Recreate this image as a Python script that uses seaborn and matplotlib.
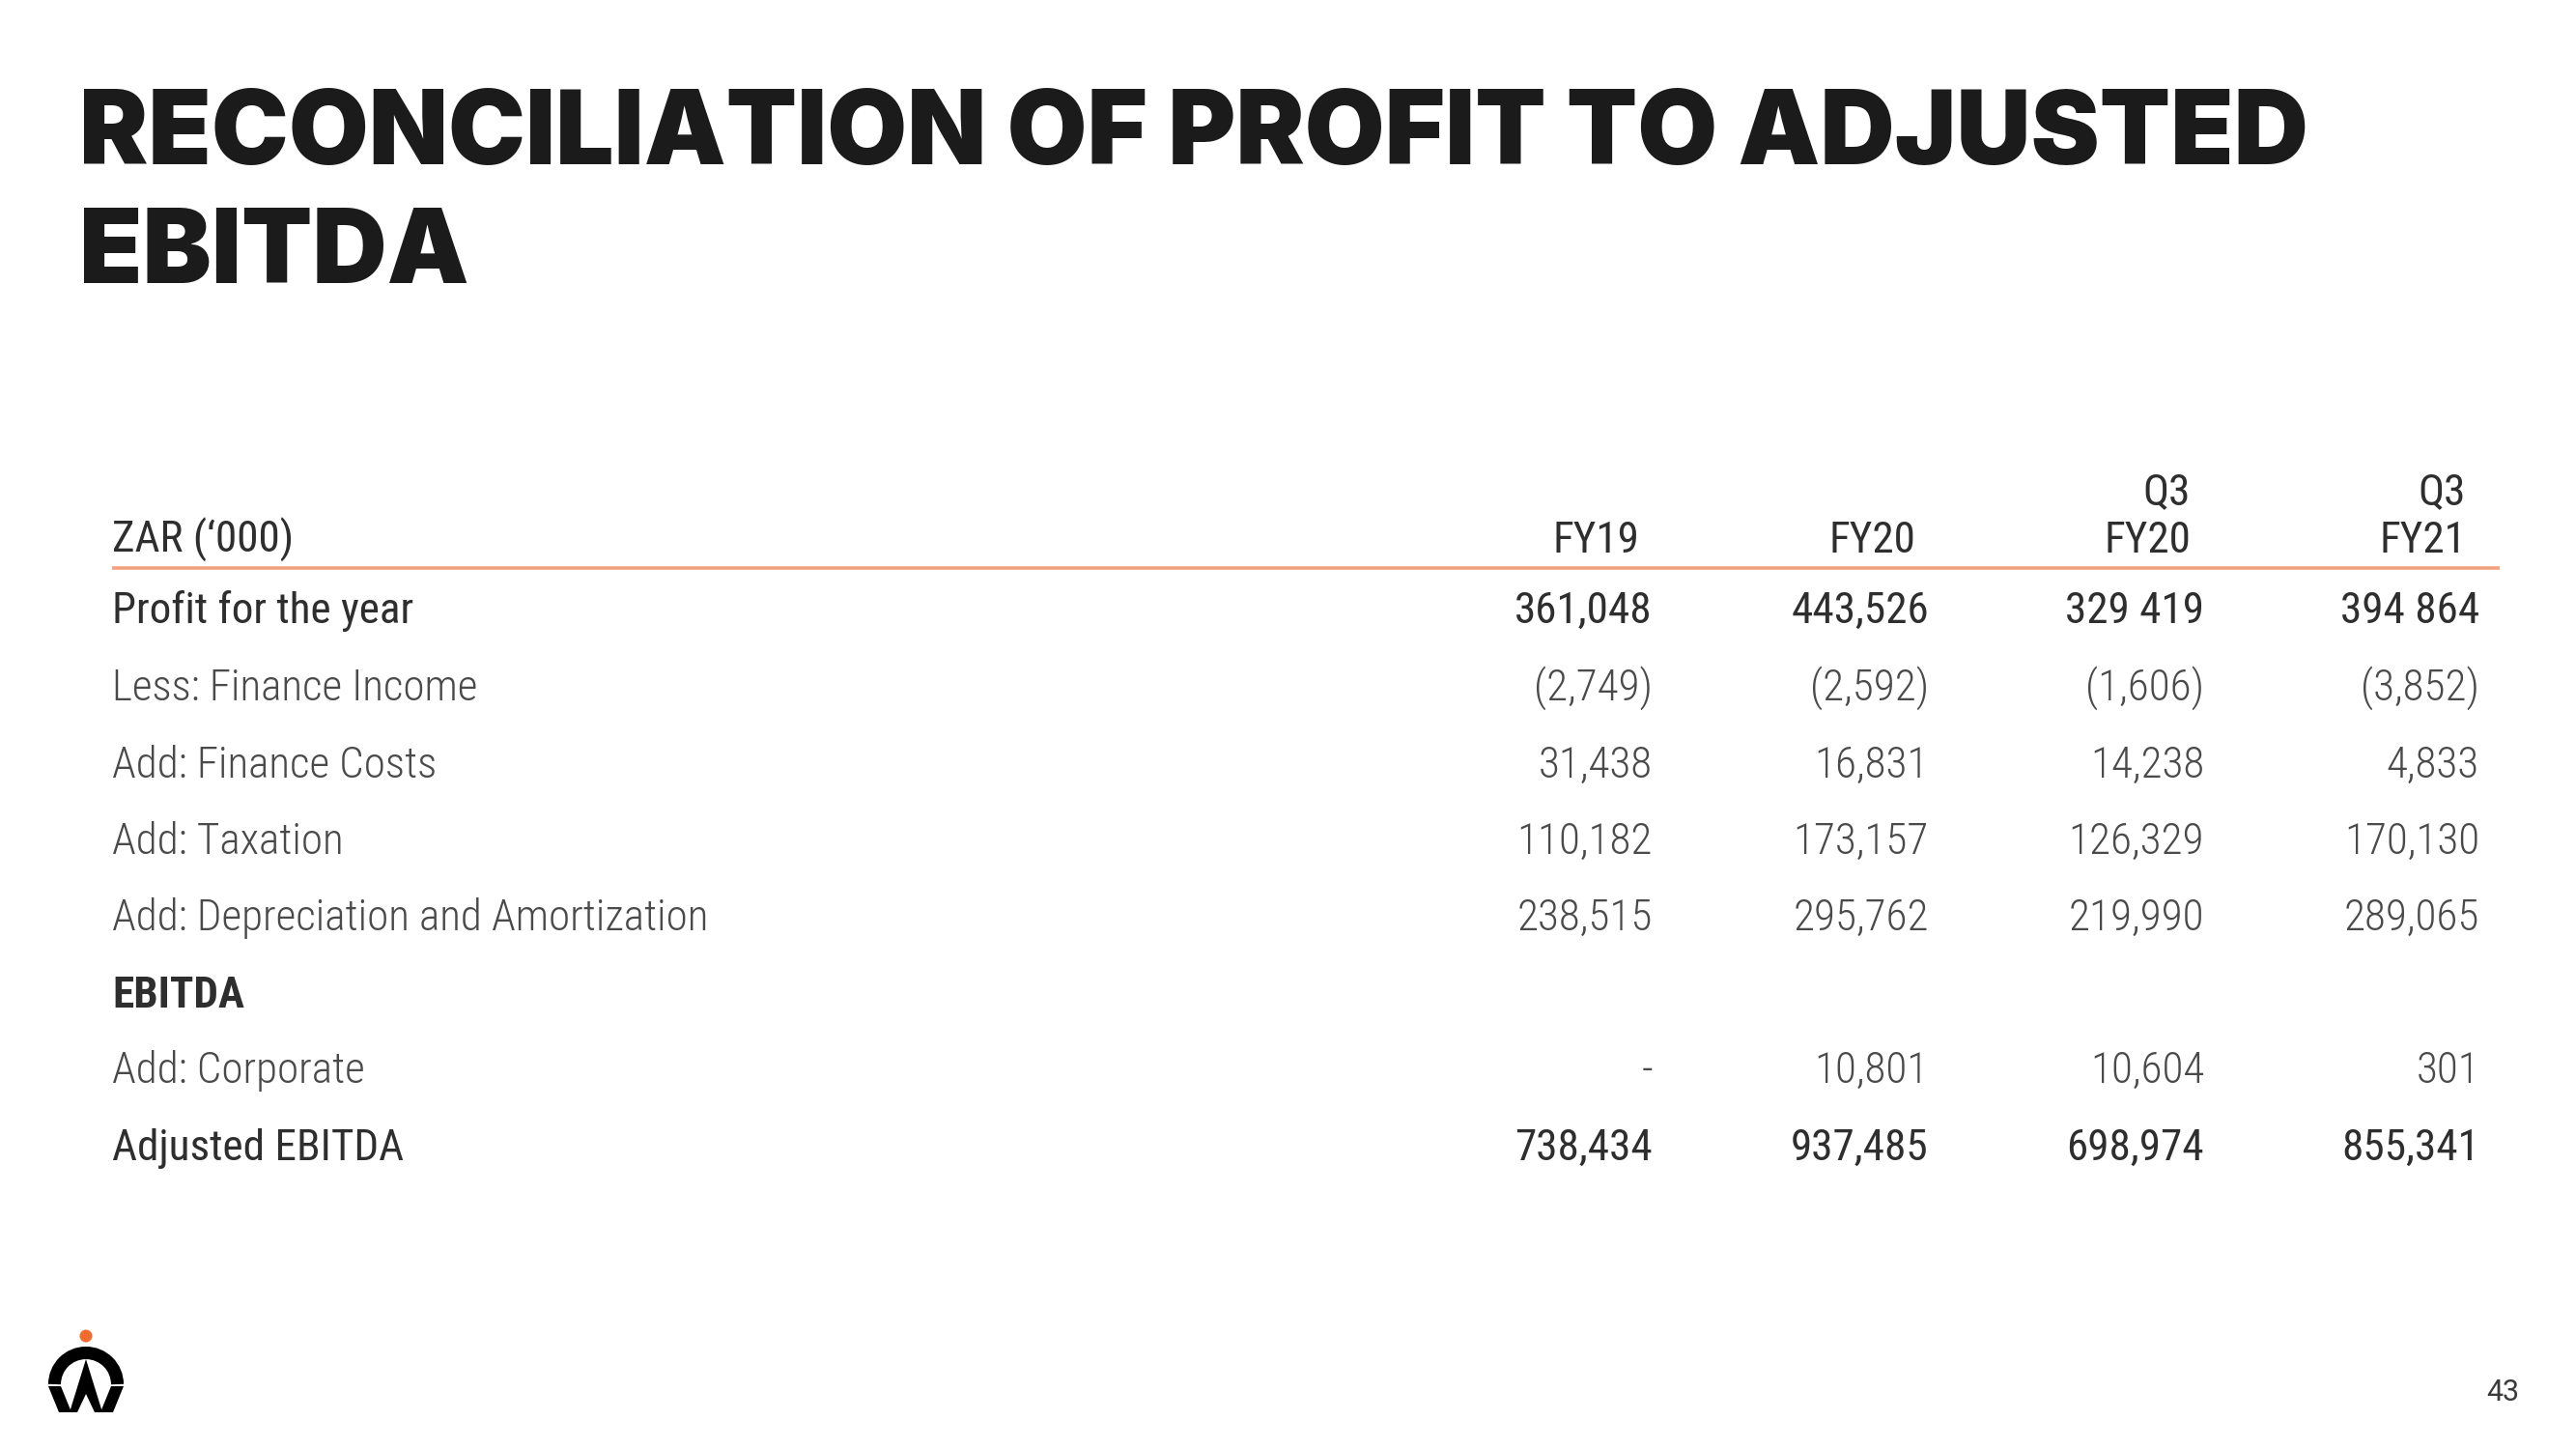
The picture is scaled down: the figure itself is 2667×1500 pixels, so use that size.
import numpy as np
import pandas as pd
import matplotlib
matplotlib.use("Agg")
import matplotlib.pyplot as plt
import seaborn as sns
from matplotlib import font_manager as fm
from matplotlib.font_manager import FontProperties
from matplotlib.patches import Arc, Polygon, Circle
import os

# ---------------- data ----------------
title_lines = ["RECONCILIATION OF PROFIT TO ADJUSTED", "EBITDA"]
unit_label = "ZAR (\u2018000)"
col_top = ["", "", "Q3", "Q3"]
col_bottom = ["FY19", "FY20", "FY20", "FY21"]
row_labels = [
    "Profit for the year",
    "Less: Finance Income",
    "Add: Finance Costs",
    "Add: Taxation",
    "Add: Depreciation and Amortization",
    "EBITDA",
    "Add: Corporate",
    "Adjusted EBITDA",
]
fy19 = ["361,048", "(2,749)", "31,438", "110,182", "238,515", "", "-", "738,434"]
fy20 = ["443,526", "(2,592)", "16,831", "173,157", "295,762", "", "10,801", "937,485"]
q3fy20 = ["329 419", "(1,606)", "14,238", "126,329", "219,990", "", "10,604", "698,974"]
q3fy21 = ["394 864", "(3,852)", "4,833", "170,130", "289,065", "", "301", "855,341"]
row_style = ["strong", "light", "light", "light", "light", "bold", "light", "strong"]
page_number = "43"

table = pd.DataFrame({"FY19": fy19, "FY20": fy20, "Q3 FY20": q3fy20, "Q3 FY21": q3fy21},
                     index=row_labels)

# ---------------- fonts ----------------
sns.set_theme(style="white")
plt.rcParams["font.family"] = ["Roboto", "DejaVu Sans"]


def font_file(family, weight, fallback_family="Roboto"):
    best = None
    for f in fm.fontManager.ttflist:
        base = os.path.basename(f.fname)
        if f.name != family or f.style != "normal":
            continue
        if "Italic" in base or "[" in base:
            continue
        try:
            d = abs(int(f.weight) - weight)
        except (TypeError, ValueError):
            d = 999
        if best is None or d < best[0]:
            best = (d, f.fname)
    if best is not None:
        return FontProperties(fname=best[1])
    return FontProperties(family=fallback_family, weight=weight)


fp_light = font_file("Roboto Condensed", 300)
fp_reg = font_file("Roboto Condensed", 400)
fp_med = font_file("Roboto Condensed", 600)
fp_title = font_file("Inter", 900, "DejaVu Sans")
fp_page = font_file("Roboto", 400)

W, H = 2667, 1500
fig = plt.figure(figsize=(W / 100, H / 100), dpi=100)
fig.patch.set_facecolor("white")
ax = fig.add_axes([0, 0, 1, 1])
ax.set_xlim(0, W)
ax.set_ylim(H, 0)
ax.axis("off")

# title
for y, line in zip([170, 293], title_lines):
    ax.text(82, y, line, fontproperties=fp_title, fontsize=77, color="#1b1b1b",
            ha="left", va="baseline")

FS = 32.5
dark = "#2e2e2e"
light = "#4a4a4a"

label_x = 116
col_right = [1711, 1997, 2282, 2567]
head_right = [1697, 1983, 2268, 2553]

# header
ax.text(label_x, 572, unit_label, fontproperties=fp_reg, fontsize=FS, color=dark,
        ha="left", va="baseline")
for i in range(4):
    if col_top[i]:
        ax.text(head_right[i], 522, col_top[i], fontproperties=fp_reg, fontsize=FS,
                color=dark, ha="right", va="baseline")
    ax.text(head_right[i], 572, col_bottom[i], fontproperties=fp_reg, fontsize=FS,
            color=dark, ha="right", va="baseline")

# orange rule
ax.plot([116, 2588], [588, 588], color="#f3a27f", lw=2.6, solid_capstyle="butt")

# rows
baselines = [645, 725, 805, 884, 963, 1043, 1121, 1201]
for r, lab in enumerate(table.index):
    st = row_style[r]
    if st == "strong":
        fp, color = fp_reg, dark
    elif st == "bold":
        fp, color = fp_med, dark
    else:
        fp, color = fp_light, light
    ax.text(label_x, baselines[r], lab, fontproperties=fp, fontsize=FS, color=color,
            ha="left", va="baseline")
    for c, col in enumerate(table.columns):
        v = table.iloc[r, c]
        if v:
            ax.text(col_right[c], baselines[r], v, fontproperties=fp, fontsize=FS,
                    color=color, ha="right", va="baseline")

# logo (screen coordinates, y downward)
cx, cy = 89, 1433
ax.add_patch(Arc((cx, cy), 65, 65, theta1=180, theta2=360, lw=9.4, color="black"))
ax.add_patch(Polygon([[50, 1435], [63, 1435], [74, 1462], [61, 1462]], closed=True,
                     color="black", lw=0))
ax.add_patch(Polygon([[128, 1435], [115, 1435], [104, 1462], [117, 1462]], closed=True,
                     color="black", lw=0))
ax.add_patch(Polygon([[cx, 1407], [106, 1462], [98, 1462], [cx, 1443], [80, 1462], [72, 1462]],
                     closed=True, color="black", lw=0))
ax.add_patch(Circle((cx, 1383), 6.5, color="#f26a2e", lw=0))

# page number
ax.text(2608, 1450, page_number, fontproperties=fp_page, fontsize=22,
        color="#3a3a3a", ha="right", va="baseline")

fig.savefig("out.png", dpi=100, facecolor="white")
